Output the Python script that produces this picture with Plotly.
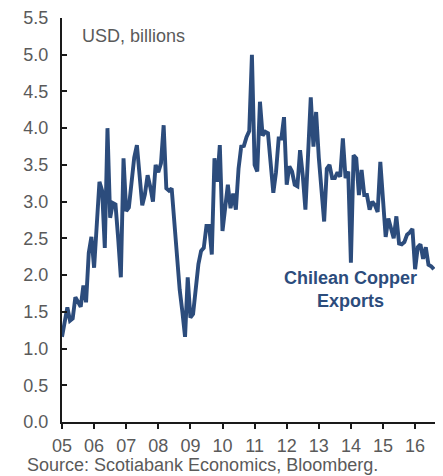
import plotly.graph_objects as go

# Monthly Chilean copper exports, USD billions, Jan 2005 .. Aug 2016
start_year = 2005
exports = [
    1.16, 1.38, 1.56, 1.38, 1.41, 1.70, 1.63, 1.57, 1.86, 1.63, 2.30, 2.52,   # 2005
    2.10, 2.70, 3.27, 3.15, 2.37, 4.00, 2.78, 2.98, 2.96, 2.50, 1.97, 3.59,   # 2006
    2.87, 2.92, 3.25, 3.60, 3.77, 3.40, 2.95, 3.10, 3.36, 3.20, 3.00, 3.50,   # 2007
    3.40, 3.52, 4.04, 3.18, 3.15, 3.18, 2.75, 2.20, 1.80, 1.50, 1.16, 1.97,   # 2008
    1.42, 1.47, 1.85, 2.15, 2.33, 2.37, 2.67, 2.67, 2.28, 3.59, 3.27, 3.77,   # 2009
    2.60, 2.91, 3.23, 2.91, 3.11, 2.89, 3.45, 3.75, 3.76, 3.88, 3.96, 5.00,   # 2010
    3.50, 3.41, 4.36, 3.90, 3.95, 3.93, 3.55, 3.12, 3.40, 3.86, 3.86, 4.15,   # 2011
    3.23, 3.48, 3.41, 3.23, 3.21, 3.70, 3.36, 2.89, 3.65, 4.42, 3.75, 4.22,   # 2012
    3.60, 3.20, 2.73, 3.45, 3.50, 3.32, 3.32, 3.40, 3.34, 3.86, 3.32, 3.41,   # 2013
    2.17, 3.63, 3.59, 3.09, 3.43, 3.09, 3.09, 2.89, 3.00, 2.95, 2.86, 3.54,   # 2014
    2.95, 2.52, 2.77, 2.62, 2.50, 2.80, 2.43, 2.42, 2.45, 2.55, 2.58, 2.63,   # 2015
    2.08, 2.38, 2.42, 2.22, 2.38, 2.14, 2.12, 2.08,                           # 2016
]
months = [start_year + i / 12 for i in range(len(exports))]

year_ticks = list(range(2005, 2017))
year_labels = [f"{y % 100:02d}" for y in year_ticks]
y_ticks = [0.0, 0.5, 1.0, 1.5, 2.0, 2.5, 3.0, 3.5, 4.0, 4.5, 5.0, 5.5]
y_labels = [f"{v:.1f}" for v in y_ticks]

LINE = "#2C4C7C"
GREY = "#5a5a5a"
FONT = "Liberation Sans, Arial, sans-serif"

fig = go.Figure()
fig.add_trace(go.Scatter(
    x=months, y=exports, mode="lines",
    line=dict(color=LINE, width=3.9),
    hoverinfo="skip", showlegend=False,
))

fig.update_layout(
    width=443, height=476,
    margin=dict(l=62, r=8, t=15, b=54),
    paper_bgcolor="white", plot_bgcolor="white",
    font=dict(family=FONT, size=18, color=GREY),
    xaxis=dict(
        range=[2005, 2016.62], tickmode="array", tickvals=year_ticks, ticktext=year_labels,
        showgrid=False, zeroline=False, showline=True, linecolor="#1a1a1a", linewidth=2,
        ticks="outside", ticklen=5, tickwidth=2, tickcolor="#1a1a1a",
        ticklabelstandoff=1,
        tickfont=dict(family=FONT, size=18, color=GREY),
    ),
    yaxis=dict(
        range=[0, 5.5], tickmode="array", tickvals=y_ticks, ticktext=y_labels,
        showgrid=False, zeroline=False, showline=True, linecolor="#1a1a1a", linewidth=2,
        ticks="inside", ticklen=5, tickwidth=2, tickcolor="#1a1a1a",
        ticklabelstandoff=8,
        tickfont=dict(family=FONT, size=18, color=GREY),
    ),
    annotations=[
        dict(text="USD, billions", xref="paper", yref="paper", x=0.048, y=0.9566,
             xanchor="left", yanchor="middle", showarrow=False,
             font=dict(family=FONT, size=18, color=GREY)),
        dict(text="Chilean Copper<br>Exports", xref="x", yref="y", x=2014.0, y=1.81,
             xanchor="center", yanchor="middle", showarrow=False, align="center",
             font=dict(family=FONT, size=18, color=LINE, weight="bold")),
        dict(text="Source: Scotiabank Economics, Bloomberg.", xref="paper", yref="paper",
             x=-0.0992, y=-0.106, xanchor="left", yanchor="middle", showarrow=False,
             font=dict(family=FONT, size=18, color=GREY)),
    ],
)

fig.write_html("out.html")
